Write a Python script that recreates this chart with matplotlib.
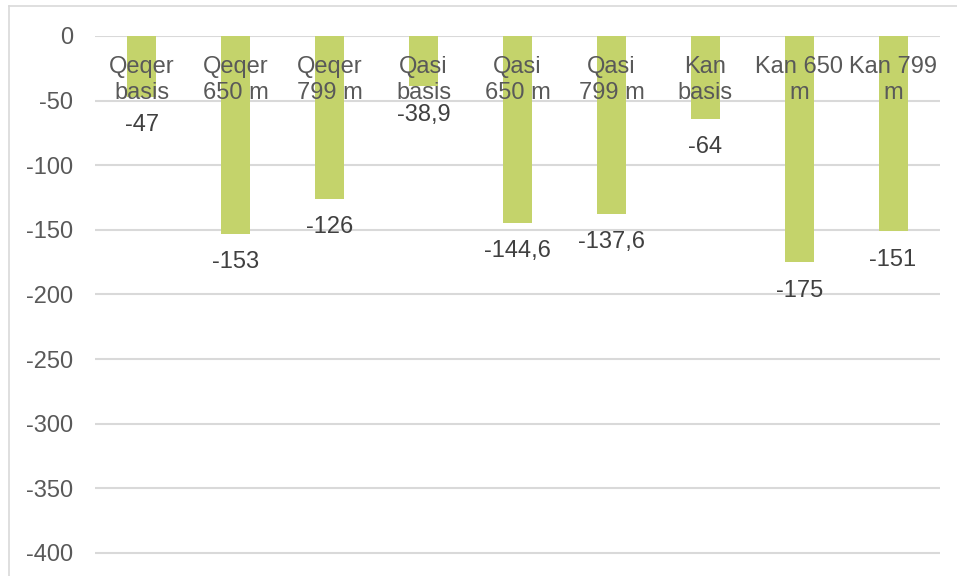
import matplotlib

matplotlib.use("Agg")
import matplotlib.pyplot as plt
from matplotlib.lines import Line2D

categories = ["Qeqer\nbasis", "Qeqer\n650 m", "Qeqer\n799 m",
              "Qasi\nbasis", "Qasi\n650 m", "Qasi\n799 m",
              "Kan\nbasis", "Kan 650\nm", "Kan 799\nm"]
values = [-47, -153, -126, -38.9, -144.6, -137.6, -64, -175, -151]
y_ticks = [0, -50, -100, -150, -200, -250, -300, -350, -400]

plt.rcParams["font.family"] = ["Liberation Sans", "DejaVu Sans"]

W, H = 957, 576
fig = plt.figure(figsize=(W / 100, H / 100), dpi=100)
ax = fig.add_axes([95 / W, 0, (940 - 95) / W, 1 - 36 / H])

# gridlines behind the bars, axis labels in front
ax.hlines(y_ticks, 0, 1, transform=ax.get_yaxis_transform(),
          color="#D9D9D9", linewidth=1.5, zorder=0.5)

x = list(range(len(categories)))
ax.bar(x, values, width=0.31, color="#C4D36B", zorder=1)

for xi, v in zip(x, values):
    txt = f"{v:g}".replace(".", ",")
    ax.annotate(txt, (xi, v), xytext=(0, -20.5), textcoords="offset points",
                ha="center", va="center", fontsize=17, color="#404040", zorder=3)

ax.set_xlim(-0.5, len(categories) - 0.5)
ax.set_ylim(-417.8, 0)
ax.set_yticks(y_ticks)
ax.set_yticklabels([str(t) for t in y_ticks])
ax.set_xticks(x)
ax.set_xticklabels(categories, linespacing=1.12)

ax.spines["bottom"].set_position(("data", 0))
ax.spines["bottom"].set_visible(False)
for s in ["top", "left", "right"]:
    ax.spines[s].set_visible(False)

ax.tick_params(axis="x", length=0, pad=14.5, labelsize=17, labelcolor="#595959")
ax.tick_params(axis="y", length=0, pad=16, labelsize=17, labelcolor="#595959")
ax.set_axisbelow(False)

# chart area border (cropped)
fig.add_artist(Line2D([9 / W, 1], [1 - 6 / H, 1 - 6 / H], color="#D9D9D9", linewidth=1.2))
fig.add_artist(Line2D([9 / W, 9 / W], [0, 1 - 6 / H], color="#D9D9D9", linewidth=1.2))

fig.savefig("out.png", dpi=100)
plt.close(fig)
